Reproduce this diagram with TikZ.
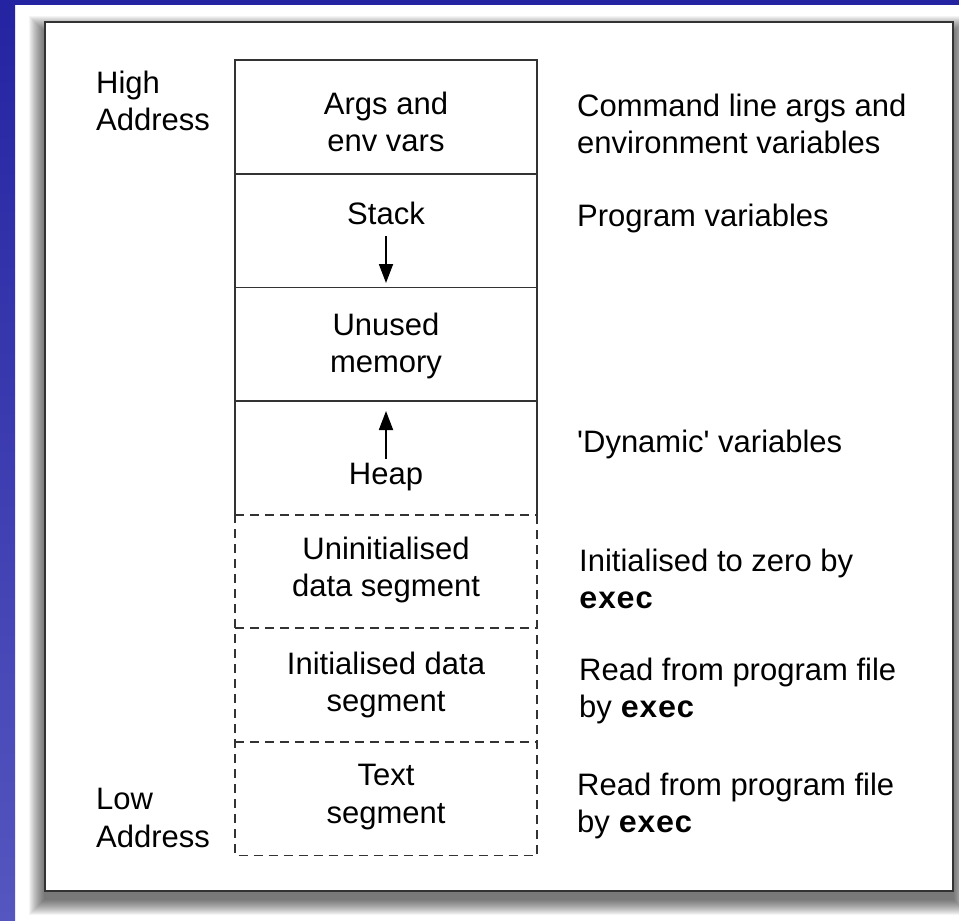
\documentclass[tikz,border=0pt]{standalone}
\usepackage{fontspec}
\setmainfont{Liberation Sans}
\setmonofont{Liberation Mono}
\usetikzlibrary{arrows.meta}
\definecolor{bgtop}{HTML}{2424A2}
\definecolor{bgbot}{HTML}{5656C0}
\definecolor{frame}{HTML}{333333}
\begin{document}
\begin{tikzpicture}[x=1pt,y=-1pt,
  txt/.style={inner sep=0pt,font=\fontsize{31}{37.5}\selectfont,align=center,text=black},
  ltxt/.style={txt,align=left,anchor=west},
  seg/.style={inner sep=0pt,minimum width=302pt,minimum height=113.6pt},
  solidline/.style={line width=1.8pt,draw=frame},
  dashline/.style={line width=1.8pt,draw=frame,dash pattern=on 9pt off 6pt},
  growarrow/.style={line width=1.8pt,draw=black,-{Triangle[length=19pt,width=14pt]}}]
\useasboundingbox (0,0) rectangle (959,921);
% background
\fill[white] (0,0) rectangle (959,921);
\shade[top color=bgtop,bottom color=bgbot] (0,0) rectangle (15,921);
\fill[bgtop] (0,0) rectangle (959,5);
% soft shadow of the panel
\foreach \i in {0,...,15}{
  \fill[black,opacity=0.045] (45-16+\i,22-6+\i) rectangle (953+16-\i,891+24-\i);
}
% panel
\path[fill=white,draw=frame,line width=2pt] (45,22) rectangle (953,891);
% segments
\node[seg] (args)   at (386,116.8) {};
\node[seg] (stack)  at (386,230.4) {};
\node[seg] (unused) at (386,344.0) {};
\node[seg] (heap)   at (386,457.6) {};
\node[seg] (bss)    at (386,571.2) {};
\node[seg] (data)   at (386,684.8) {};
\node[seg] (text)   at (386,798.4) {};
% solid part
\draw[solidline] (heap.south west) -- (args.north west) -- (args.north east) -- (heap.south east);
\draw[solidline] (args.south west) -- (args.south east);
\draw[solidline] (stack.south west) -- (stack.south east);
\draw[solidline] (unused.south west) -- (unused.south east);
% dashed part
\draw[dashline] (heap.south west) -- (heap.south east);
\draw[dashline] (bss.north west) -- (text.south west) -- (text.south east) -- (bss.north east);
\draw[dashline] (bss.south west) -- (bss.south east);
\draw[dashline] (data.south west) -- (data.south east);
% segment labels
\node[txt] (argsl)   at (386,122) {Args and\\env vars};
\node[txt] (stackl)  at (386,213) {Stack};
\node[txt] (unusedl) at (386,346) {Unused\\memory};
\node[txt] (heapl)   at (386,477) {Heap};
\node[txt] (bssl)    at (386,570) {Uninitialised\\data segment};
\node[txt] (datal)   at (386,685) {Initialised data\\segment};
\node[txt] (textl)   at (386,797) {Text\\segment};
% growth arrows
\coordinate (stail) at (386,236);
\coordinate (sdown) at (386,283);
\coordinate (htail) at (386,459);
\coordinate (hup) at (386,411);
\draw[growarrow] (stail) -- (sdown);
\draw[growarrow] (htail) -- (hup);
% address labels
\node[ltxt] (high) at (96,101) {High\\Address};
\node[ltxt] (low)  at (96,818) {Low\\Address};
% descriptions
\node[ltxt] (d1) at (577,124) {Command line args and\\environment variables};
\node[ltxt] (d2) at (577,218) {Program variables};
\node[ltxt] (d3) at (577,444) {\textquotesingle Dynamic\textquotesingle{} variables};
\node[ltxt] (d4) at (579,579) {Initialised to zero by\\\textbf{\ttfamily exec}};
\node[ltxt] (d5) at (579,691) {Read from program file\\by \textbf{\ttfamily exec}};
\node[ltxt] (d6) at (577,806) {Read from program file\\by \textbf{\ttfamily exec}};
\end{tikzpicture}
\end{document}
